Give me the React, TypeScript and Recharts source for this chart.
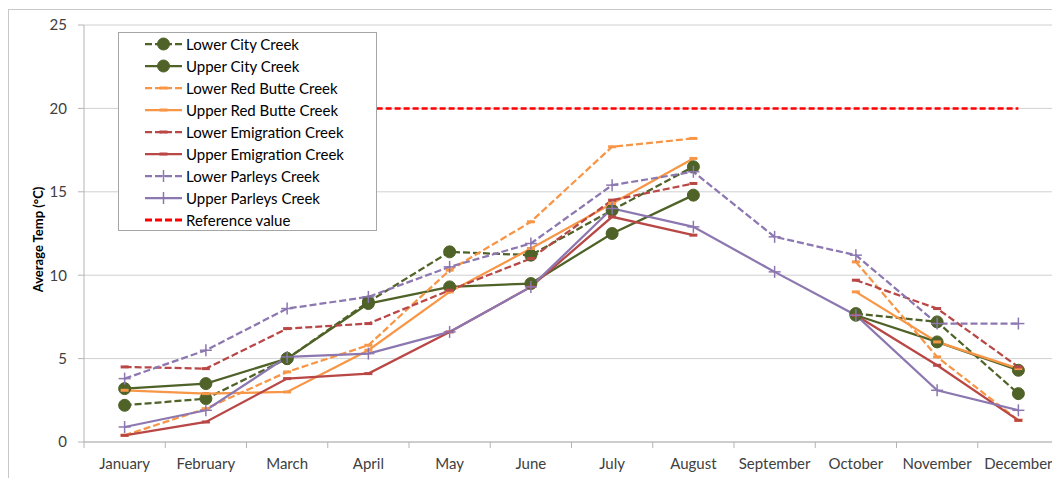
import React from "react";
import { LineChart, Line, XAxis, YAxis, CartesianGrid } from "recharts";

const months = [
  "January", "February", "March", "April", "May", "June",
  "July", "August", "September", "October", "November", "December",
];

// monthly average temperatures (°C), null = no measurement
const lowerCity = [2.2, 2.6, 5.0, 8.4, 11.4, 11.2, 13.9, 16.5, null, 7.7, 7.2, 2.9];
const upperCity = [3.2, 3.5, 5.0, 8.3, 9.3, 9.5, 12.5, 14.8, null, 7.6, 6.0, 4.3];
const lowerRedButte = [0.4, 2.0, 4.2, 5.8, 10.3, 13.2, 17.7, 18.2, null, 10.8, 5.1, 1.3];
const upperRedButte = [3.1, 2.9, 3.0, 5.5, 9.0, 11.6, 14.3, 17.0, null, 9.0, 6.0, 4.4];
const lowerEmigration = [4.5, 4.4, 6.8, 7.1, 9.1, 11.0, 14.5, 15.5, null, 9.7, 8.0, 4.5];
const upperEmigration = [0.4, 1.2, 3.8, 4.1, 6.6, 9.3, 13.5, 12.4, null, 7.6, 4.6, 1.3];
const lowerParleys = [3.8, 5.5, 8.0, 8.7, 10.5, 11.9, 15.4, 16.2, 12.3, 11.2, 7.1, 7.1];
const upperParleys = [0.9, 1.9, 5.1, 5.3, 6.6, 9.3, 14.0, 12.9, 10.2, 7.6, 3.1, 1.9];
const referenceValue = months.map(() => 20);

const yTicks = [0, 5, 10, 15, 20, 25];

const GREEN = "#4F6228";
const ORANGE = "#F79646";
const DARK_RED = "#B84745";
const PURPLE = "#8C77B0";
const REF_RED = "#FF0000";

const FONT = "Lato, 'Open Sans', sans-serif";
const TEXT = "#404040";
const AXIS = "#b4b4b4";
const GRID = "#d0d0d0";

const CHART_W = 1051;
const CHART_H = 468;
const Y_AXIS_W = 75;
const MARGIN = { top: 15, right: 1, left: 0, bottom: 0 };
const BAND = (CHART_W - Y_AXIS_W - MARGIN.left - MARGIN.right) / months.length;

type Marker = "circle" | "plus" | "dash" | "none";

const series = [
  { key: "lowerCity", name: "Lower City Creek", color: GREEN, dashed: true, marker: "circle" as Marker, values: lowerCity },
  { key: "upperCity", name: "Upper City Creek", color: GREEN, dashed: false, marker: "circle" as Marker, values: upperCity },
  { key: "lowerRedButte", name: "Lower Red Butte Creek", color: ORANGE, dashed: true, marker: "dash" as Marker, values: lowerRedButte },
  { key: "upperRedButte", name: "Upper Red Butte Creek", color: ORANGE, dashed: false, marker: "dash" as Marker, values: upperRedButte },
  { key: "lowerEmigration", name: "Lower Emigration Creek", color: DARK_RED, dashed: true, marker: "dash" as Marker, values: lowerEmigration },
  { key: "upperEmigration", name: "Upper Emigration Creek", color: DARK_RED, dashed: false, marker: "dash" as Marker, values: upperEmigration },
  { key: "lowerParleys", name: "Lower Parleys Creek", color: PURPLE, dashed: true, marker: "plus" as Marker, values: lowerParleys },
  { key: "upperParleys", name: "Upper Parleys Creek", color: PURPLE, dashed: false, marker: "plus" as Marker, values: upperParleys },
];

const data = months.map((month, i) => {
  const row: Record<string, string | number | null> = { month, reference: referenceValue[i] };
  series.forEach((s) => {
    row[s.key] = s.values[i];
  });
  return row;
});

const drawMarker = (marker: Marker, color: string, cx: number, cy: number, key?: string) => {
  if (marker === "circle") {
    return <circle key={key} cx={cx} cy={cy} r={6} fill={color} stroke={color} />;
  }
  if (marker === "plus") {
    return (
      <g key={key}>
        <line x1={cx - 6} y1={cy} x2={cx + 6} y2={cy} stroke={color} strokeWidth={1.5} />
        <line x1={cx} y1={cy - 6} x2={cx} y2={cy + 6} stroke={color} strokeWidth={1.5} />
      </g>
    );
  }
  if (marker === "dash") {
    return <line key={key} x1={cx - 4} y1={cy} x2={cx + 4} y2={cy} stroke={color} strokeWidth={3} />;
  }
  return <g key={key} />;
};

const makeDot = (marker: Marker, color: string) => (props: any) => {
  const { cx, cy, index, value } = props;
  const key = `dot-${index}`;
  if (cx == null || cy == null || value == null) return <g key={key} />;
  return drawMarker(marker, color, cx, cy, key);
};

const MonthTick = (props: any) => {
  const { x, y, payload, index } = props;
  return (
    <g>
      <line x1={x - BAND / 2} y1={y} x2={x - BAND / 2} y2={y + 6} stroke={AXIS} />
      {index === months.length - 1 && (
        <line x1={x + BAND / 2} y1={y} x2={x + BAND / 2} y2={y + 6} stroke={AXIS} />
      )}
      <text x={x} y={y + 27} textAnchor="middle" fill={TEXT} fontSize={15} fontFamily={FONT}>
        {payload.value}
      </text>
    </g>
  );
};

const YLabel = (props: any) => {
  const { viewBox } = props;
  const cx = viewBox.x + 29;
  const cy = viewBox.y + viewBox.height / 2 + 6;
  return (
    <text
      x={cx}
      y={cy}
      transform={`rotate(-90 ${cx} ${cy})`}
      textAnchor="middle"
      dominantBaseline="central"
      fontSize={13}
      fontWeight="bold"
      fontFamily={FONT}
      fill="#000"
    >
      Average Temp (°C)
    </text>
  );
};

const legendItems = [
  ...series.map((s) => ({ name: s.name, color: s.color, dashed: s.dashed, marker: s.marker, width: 2.25 })),
  { name: "Reference value", color: REF_RED, dashed: true, marker: "none" as Marker, width: 3 },
];

const ChartLegend = () => (
  <div
    style={{
      position: "absolute",
      left: 109,
      top: 22,
      width: 257,
      height: 197,
      background: "#fff",
      border: "1px solid #a6a6a6",
      fontFamily: FONT,
      fontSize: 15,
      color: "#000",
    }}
  >
    {legendItems.map((item) => (
      <div key={item.name} style={{ display: "flex", alignItems: "center", height: 22 }}>
        <svg width={64} height={22} style={{ flex: "none" }}>
          <line
            x1={26}
            y1={11}
            x2={63}
            y2={11}
            stroke={item.color}
            strokeWidth={item.width}
            strokeDasharray={item.dashed ? "7 3" : undefined}
          />
          {drawMarker(item.marker, item.color, 44.5, 11)}
        </svg>
        <span style={{ marginLeft: 3, whiteSpace: "nowrap", lineHeight: "22px" }}>{item.name}</span>
      </div>
    ))}
  </div>
);

export default function App() {
  return (
    <div
      style={{
        position: "relative",
        top: 1,
        width: 1051,
        height: 469,
        borderTop: "1px solid #c8c8c8",
        borderLeft: "1px solid #c8c8c8",
        background: "#fff",
      }}
    >
      <LineChart width={CHART_W} height={CHART_H} data={data} margin={MARGIN}>
        <CartesianGrid vertical={false} stroke={GRID} />
        <XAxis
          dataKey="month"
          axisLine={{ stroke: AXIS }}
          tickLine={false}
          tickSize={0}
          tickMargin={0}
          interval={0}
          padding={{ left: BAND / 2, right: BAND / 2 }}
          height={CHART_H - MARGIN.top - 417}
          tick={<MonthTick />}
        />
        <YAxis
          domain={[0, 25]}
          ticks={yTicks}
          width={Y_AXIS_W}
          axisLine={{ stroke: AXIS }}
          tickLine={{ stroke: AXIS }}
          tickSize={6}
          tickMargin={11}
          tick={{ fill: TEXT, fontSize: 15, fontFamily: FONT }}
          label={<YLabel />}
        />
        {series.map((s) => (
          <Line
            key={s.key}
            type="linear"
            dataKey={s.key}
            name={s.name}
            stroke={s.color}
            strokeWidth={2.25}
            strokeDasharray={s.dashed ? "7 3" : undefined}
            dot={makeDot(s.marker, s.color)}
            activeDot={false}
            connectNulls={false}
            isAnimationActive={false}
          />
        ))}
        <Line
          type="linear"
          dataKey="reference"
          name="Reference value"
          stroke={REF_RED}
          strokeWidth={2.5}
          strokeDasharray="6 3"
          dot={false}
          activeDot={false}
          isAnimationActive={false}
        />
      </LineChart>
      <ChartLegend />
    </div>
  );
}
